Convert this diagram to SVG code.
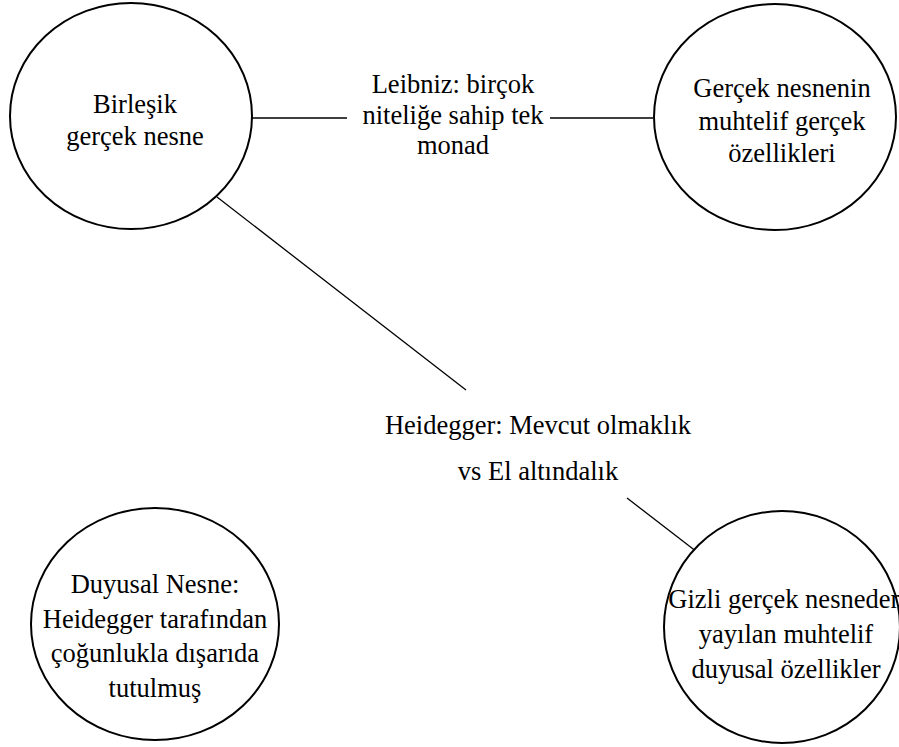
<svg xmlns="http://www.w3.org/2000/svg" width="899" height="747" viewBox="0 0 899 747">
<style>
.node ellipse{fill:#fff;stroke:#000;stroke-width:2}
.edges line{stroke:#000;stroke-width:1.3}
text{font-family:"Liberation Serif","Times New Roman",serif;font-size:26.5px;fill:#000;text-anchor:middle}
</style>
<rect width="899" height="747" fill="#fff"/>
<g class="edges" id="connectors">
<line x1="252" y1="118" x2="347" y2="118"/>
<line x1="550" y1="118" x2="653" y2="118"/>
<line x1="217" y1="197" x2="466" y2="390"/>
<line x1="627" y1="498" x2="697" y2="552"/>
</g>
<g class="node" id="birlesik">
<ellipse cx="131" cy="116" rx="121" ry="113"/>
<text x="135" y="113">Birleşik</text>
<text x="135" y="145">gerçek nesne</text>
</g>
<g class="node" id="gercek-ozellikler">
<ellipse cx="775" cy="117" rx="121" ry="113"/>
<text x="782" y="97">Gerçek nesnenin</text>
<text x="782" y="130">muhtelif gerçek</text>
<text x="782" y="162">özellikleri</text>
</g>
<g id="leibniz">
<text x="453" y="93">Leibniz: birçok</text>
<text x="453" y="124">niteliğe sahip tek</text>
<text x="453" y="154">monad</text>
</g>
<g id="heidegger">
<text x="538" y="434">Heidegger: Mevcut olmaklık</text>
<text x="538" y="480">vs El altındalık</text>
</g>
<g class="node" id="duyusal-nesne">
<ellipse cx="155" cy="624" rx="124" ry="116"/>
<text x="155" y="593">Duyusal Nesne:</text>
<text x="155" y="628">Heidegger tarafından</text>
<text x="155" y="662">çoğunlukla dışarıda</text>
<text x="155" y="697">tutulmuş</text>
</g>
<g class="node" id="duyusal-ozellikler">
<ellipse cx="782" cy="627" rx="118" ry="116"/>
<text x="786" y="608">Gizli gerçek nesneden</text>
<text x="786" y="643">yayılan muhtelif</text>
<text x="786" y="678">duyusal özellikler</text>
</g>
</svg>
